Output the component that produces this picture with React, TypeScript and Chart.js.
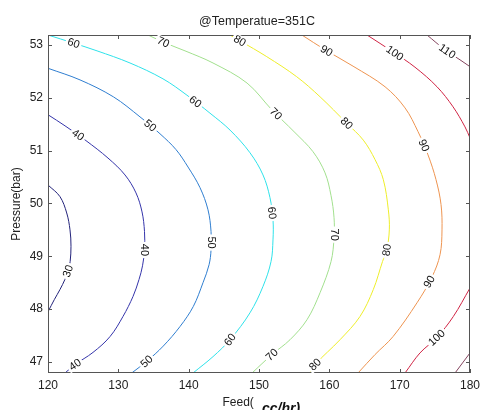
import React, { useEffect, useRef } from "react";
import { Chart, registerables } from "chart.js";

Chart.register(...registerables);

const X_TICKS = [120, 130, 140, 150, 160, 170, 180];
const Y_TICKS = [47, 48, 49, 50, 51, 52, 53];

// Contour lines: [feed, pressure]
const LEVEL_30 = [[120, 50.35], [121.7, 50.13], [122.66, 49.82], [123.13, 49.5], [123.27, 49.19], [123.15, 48.9], [122.9, 48.75], [122.4, 48.56], [121.7, 48.37], [120.9, 48.18], [120.0, 47.95]];
const LEVEL_40 = [[120, 51.68], [122.42, 51.47], [125.4, 51.19], [128.53, 50.86], [130.95, 50.54], [132.51, 50.2], [133.37, 49.84], [133.72, 49.47], [133.72, 49.12], [133.44, 48.82], [132.94, 48.56], [132.09, 48.24], [130.66, 47.86], [128.82, 47.48], [126.4, 47.18], [123.84, 46.95], [122.42, 46.79]];
const LEVEL_50 = [[120, 52.56], [124.55, 52.34], [129.29, 52.02], [133.08, 51.64], [135.92, 51.32], [138.2, 51.02], [139.91, 50.69], [141.61, 50.3], [142.75, 49.88], [143.18, 49.47], [143.18, 49.12], [142.9, 48.84], [142.04, 48.5], [140.66, 48.05], [138.77, 47.67], [136.39, 47.3], [134.03, 47.01], [131.9, 46.79]];
const LEVEL_60 = [[120, 53.19], [123.55, 53.04], [126.97, 52.89], [131.66, 52.66], [136.35, 52.36], [139.76, 52.05], [143.03, 51.71], [145.88, 51.39], [148.72, 50.96], [150.57, 50.54], [151.56, 50.11], [151.99, 49.69], [151.99, 49.31], [151.71, 48.9], [150.57, 48.43], [148.72, 47.93], [145.88, 47.42], [143.46, 47.1], [140.62, 46.79]];
const LEVEL_70 = [[134.22, 53.19], [136.64, 53.04], [139.48, 52.89], [143.46, 52.66], [148.3, 52.28], [151.85, 51.77], [154.98, 51.36], [157.68, 50.98], [159.39, 50.58], [160.24, 50.15], [160.67, 49.73], [160.67, 49.35], [160.24, 48.9], [158.68, 48.31], [156.83, 47.8], [154.41, 47.42], [151.85, 47.14], [149.01, 46.79]];
const LEVEL_80 = [[145.88, 53.19], [147.3, 53.08], [151.1, 52.78], [155.36, 52.4], [158.68, 52.02], [162.47, 51.52], [164.83, 51.2], [166.5, 50.83], [167.68, 50.45], [168.39, 49.88], [168.53, 49.5], [168.16, 49.12], [167.56, 48.9], [166.25, 48.37], [164.36, 47.86], [161.52, 47.42], [157.96, 46.95], [157.25, 46.79]];
const LEVEL_90 = [[156.1, 53.19], [159.39, 52.91], [163.37, 52.6], [167.92, 52.21], [170.76, 51.81], [172.61, 51.36], [174.03, 50.92], [175.17, 50.45], [175.88, 49.98], [176.02, 49.5], [175.74, 49.03], [174.6, 48.61], [172.47, 48.12], [169.06, 47.48], [166.5, 47.14], [164.08, 46.79]];
const LEVEL_100_TOP = [[165.36, 53.19], [169.05, 52.87], [172.18, 52.58], [175.31, 52.21], [177.59, 51.83], [179.29, 51.45], [180, 51.24]];
const LEVEL_100_BOTTOM = [[170.76, 46.79], [172.89, 47.17], [175.27, 47.46], [177.63, 47.86], [180, 48.4]];
const LEVEL_110_TOP = [[173.89, 53.19], [176.45, 52.91], [178.58, 52.72], [180, 52.59]];
const LEVEL_110_BOTTOM = [[177.87, 46.79], [180, 47.17]];

const CONTOURS: { level: number; points: number[][]; color: string }[] = [
  { level: 30, points: LEVEL_30, color: "#22227a" },
  { level: 40, points: LEVEL_40, color: "#3434aa" },
  { level: 50, points: LEVEL_50, color: "#2f7ed0" },
  { level: 60, points: LEVEL_60, color: "#2ee2ea" },
  { level: 70, points: LEVEL_70, color: "#a2e08e" },
  { level: 80, points: LEVEL_80, color: "#eeee2a" },
  { level: 90, points: LEVEL_90, color: "#ee9450" },
  { level: 100, points: LEVEL_100_TOP, color: "#d02444" },
  { level: 100, points: LEVEL_100_BOTTOM, color: "#d02444" },
  { level: 110, points: LEVEL_110_TOP, color: "#84445e" },
  { level: 110, points: LEVEL_110_BOTTOM, color: "#84445e" },
];

// Contour labels: [level, feed, pressure]
const LABELS = [
  [30, 123.03, 48.71],
  [40, 124.27, 51.3], [40, 133.98, 49.12], [40, 123.84, 46.95],
  [50, 134.26, 51.43], [50, 143.53, 49.26], [50, 134.03, 47.01],
  [60, 123.6, 53.02], [60, 140.62, 51.87], [60, 151.81, 49.82], [60, 145.88, 47.42],
  [70, 136.21, 53.0], [70, 152.28, 51.68], [70, 160.81, 49.41], [70, 151.81, 47.14],
  [80, 147.06, 53.03], [80, 162.47, 51.52], [80, 168.16, 49.12], [80, 157.96, 46.95],
  [90, 159.39, 52.84], [90, 173.13, 51.08], [90, 174.07, 48.53],
  [100, 169.1, 52.81], [100, 175.27, 47.46],
  [110, 176.69, 52.87],
];

const FONT = "'Liberation Sans', Arial, Helvetica, sans-serif";

const decorPlugin = {
  id: "decor",
  afterDatasetsDraw(chart: any) {
    const { ctx, chartArea: a, scales } = chart;
    const xs = scales.x;
    const ys = scales.y;
    ctx.save();
    // box
    ctx.strokeStyle = "#555";
    ctx.lineWidth = 1;
    ctx.strokeRect(Math.round(a.left) + 0.5, Math.round(a.top) + 0.5, Math.round(a.right - a.left) - 1, Math.round(a.bottom - a.top) - 1);
    // inward ticks
    const tl = 4;
    ctx.beginPath();
    X_TICKS.forEach((v) => {
      const px = Math.round(xs.getPixelForValue(v)) + 0.5;
      ctx.moveTo(px, a.top);
      ctx.lineTo(px, a.top + tl);
      ctx.moveTo(px, a.bottom);
      ctx.lineTo(px, a.bottom - tl);
    });
    Y_TICKS.forEach((v) => {
      const py = Math.round(ys.getPixelForValue(v)) + 0.5;
      ctx.moveTo(a.left, py);
      ctx.lineTo(a.left + tl, py);
      ctx.moveTo(a.right, py);
      ctx.lineTo(a.right - tl, py);
    });
    ctx.stroke();

    // contour labels
    ctx.beginPath();
    ctx.rect(a.left, a.top, a.right - a.left, a.bottom - a.top);
    ctx.clip();
    ctx.font = "11px " + FONT;
    ctx.textAlign = "center";
    ctx.textBaseline = "middle";
    LABELS.forEach(([level, fx, fy]) => {
      const px = xs.getPixelForValue(fx);
      const py = ys.getPixelForValue(fy);
      let best = Infinity;
      let bx = px, by = py, ang = 0;
      CONTOURS.filter((c) => c.level === level).forEach((c) => {
        const pts = c.points.map(([x, y]) => [xs.getPixelForValue(x), ys.getPixelForValue(y)]);
        for (let i = 0; i < pts.length - 1; i++) {
          const [x1, y1] = pts[i];
          const [x2, y2] = pts[i + 1];
          const dx = x2 - x1, dy = y2 - y1;
          const l2 = dx * dx + dy * dy || 1;
          let t = ((px - x1) * dx + (py - y1) * dy) / l2;
          t = Math.max(0, Math.min(1, t));
          const qx = x1 + t * dx, qy = y1 + t * dy;
          const d = (qx - px) ** 2 + (qy - py) ** 2;
          if (d < best) {
            best = d;
            bx = qx;
            by = qy;
            ang = Math.atan2(dy, dx);
          }
        }
      });
      if (ang > Math.PI / 2) ang -= Math.PI;
      if (ang < -Math.PI / 2) ang += Math.PI;
      const txt = String(level);
      const w = ctx.measureText(txt).width;
      ctx.save();
      ctx.translate(bx, by);
      ctx.rotate(ang);
      ctx.fillStyle = "#fff";
      ctx.fillRect(-w / 2 - 2, -5, w + 4, 10);
      ctx.fillStyle = "#111";
      ctx.fillText(txt, 0, 0.5);
      ctx.restore();
    });
    ctx.restore();
  },
  afterDraw(chart: any) {
    const { ctx, chartArea: a } = chart;
    ctx.save();
    ctx.fillStyle = "#222";
    ctx.font = "12.5px " + FONT;
    ctx.textAlign = "center";
    ctx.textBaseline = "alphabetic";
    ctx.fillText("@Temperatue=351C", (a.left + a.right) / 2 - 2, 25);
    // y title
    ctx.save();
    ctx.translate(17, 204);
    ctx.rotate(-Math.PI / 2);
    ctx.font = "12px " + FONT;
    ctx.textBaseline = "middle";
    ctx.fillText("Pressure(bar)", 0, 0);
    ctx.restore();
    // x title
    ctx.textAlign = "left";
    ctx.font = "12px " + FONT;
    ctx.fillText("Feed(", 222.5, 406);
    ctx.font = "italic bold 14px " + FONT;
    ctx.fillStyle = "#111";
    ctx.fillText("cc/hr)", 262, 413);
    ctx.restore();
  },
};

export default function App() {
  const ref = useRef<HTMLCanvasElement | null>(null);
  useEffect(() => {
    document.body.style.margin = "0";
    const canvas = ref.current;
    if (!canvas) return;
    const chart = new Chart(canvas, {
      type: "scatter",
      data: {
        datasets: CONTOURS.map((c) => ({
          label: String(c.level),
          data: c.points.map(([x, y]) => ({ x, y })),
          showLine: true,
          borderColor: c.color,
          backgroundColor: c.color,
          borderWidth: 1,
          pointRadius: 0,
          tension: 0.35,
          fill: false,
        })),
      },
      options: {
        animation: false,
        responsive: false,
        maintainAspectRatio: false,
        layout: { padding: { left: 0, right: 10, top: 35, bottom: 0 } },
        plugins: {
          legend: { display: false },
          title: { display: false },
          tooltip: { enabled: false },
        },
        scales: {
          x: {
            type: "linear",
            min: 120,
            max: 180,
            afterBuildTicks: (s: any) => {
              s.ticks = X_TICKS.map((v) => ({ value: v }));
            },
            afterFit: (s: any) => {
              s.height = 37;
              s.paddingLeft = 0;
              s.paddingRight = 0;
            },
            grid: { display: false, drawTicks: false },
            border: { display: false },
            ticks: {
              padding: 5,
              color: "#222",
              font: { family: FONT, size: 12 },
              maxRotation: 0,
              autoSkip: false,
            },
          },
          y: {
            type: "linear",
            min: 46.79,
            max: 53.19,
            afterBuildTicks: (s: any) => {
              s.ticks = Y_TICKS.map((v) => ({ value: v }));
            },
            afterFit: (s: any) => {
              s.width = 48;
              s.paddingTop = 0;
              s.paddingBottom = 0;
            },
            grid: { display: false, drawTicks: false },
            border: { display: false },
            ticks: {
              padding: 5,
              color: "#222",
              font: { family: FONT, size: 12 },
              autoSkip: false,
            },
          },
        },
      },
      plugins: [decorPlugin],
    });
    return () => chart.destroy();
  }, []);
  return (
    <div style={{ position: "absolute", left: 0, top: 0, width: 480, height: 410, background: "#fff" }}>
      <canvas ref={ref} width={480} height={410} style={{ display: "block" }} />
    </div>
  );
}
